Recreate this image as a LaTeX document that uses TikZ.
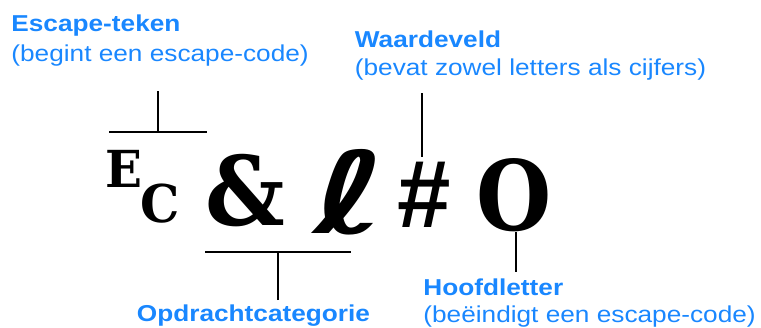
\documentclass[tikz,border=0pt]{standalone}
\usepackage{fontspec}
\usepackage{bm}
\newfontfamily\labelfont[FakeStretch=1.14]{Liberation Sans}
\newfontfamily\hashfont{Liberation Sans}
\newfontfamily\glyphfont{DejaVu Serif}
\newfontfamily\ellfont{DejaVu Sans}
\usetikzlibrary{positioning}
\definecolor{hpblue}{RGB}{25,135,255}

\begin{document}
\begin{tikzpicture}[x=1pt, y=-1pt, line width=1.8pt]
        \tikzstyle{title} = [anchor=base west, inner sep=0pt, text=hpblue, font=\labelfont\bfseries\fontsize{23}{28}\selectfont]
        \tikzstyle{remark} = [anchor=base west, inner sep=0pt, text=hpblue, font=\labelfont\fontsize{23}{28}\selectfont]
        \tikzstyle{glyph} = [anchor=base west, inner sep=0pt]

\useasboundingbox (0,0) rectangle (761,327);

% labels
        \node[title] (esc) at (10.5,31.7) {Escape-teken};
        \node[remark] (escnote) at ([yshift=-29.5pt]esc.base west) {(begint een escape-code)};
        \node[title] (value) at (354,47) {Waardeveld};
        \node[remark] (valuenote) at ([yshift=-28pt]value.base west) {(bevat zowel letters als cijfers)};
        \node[title] (group) at (136,321) {Opdrachtcategorie};
        \node[title] (upper) at (422.5,295) {Hoofdletter};
        \node[remark] (uppernote) at ([yshift=-27pt]upper.base west) {(beëindigt een escape-code)};

% escape sequence
        \node[glyph] (E) at (105,187) {\scalebox{0.95}[1]{\glyphfont\bfseries\fontsize{51}{51}\selectfont E}};
        \node[glyph] (C) at (140,222.5) {\scalebox{0.95}[1]{\glyphfont\bfseries\fontsize{52}{52}\selectfont C}};
        \node[glyph] (amp) at (205,225) {\scalebox{0.92}[1]{\glyphfont\bfseries\fontsize{96}{96}\selectfont\&}};
        \node[glyph] (ell) at (313,233) {\scalebox{1.4}[1.03]{\ellfont\bfseries\fontsize{110}{110}\selectfont ℓ}};
        \node[glyph] (hash) at (397,227) {\fontsize{96}{96}\selectfont\hashfont\bfseries\#};
        \node[glyph] (O) at (476,230) {\scalebox{0.89}[1]{\glyphfont\bfseries\fontsize{97}{97}\selectfont O}};

% brackets
        \coordinate (escL) at (109,132);
        \coordinate (escR) at (207,132);
        \coordinate (escT) at (158,91);
        \draw (escL) -- (escR);
        \draw (escT) -- (escT |- escL);

\coordinate (grpL) at (205,252);
        \coordinate (grpR) at (351,252);
        \coordinate (grpB) at (278,300);
        \draw (grpL) -- (grpR);
        \draw (grpB) -- (grpB |- grpL);

\coordinate (valT) at (422,93);
        \coordinate (valB) at (422,157);
        \draw (valT) -- (valB);

\coordinate (upT) at (516,232);
        \coordinate (upB) at (516,272);
        \draw (upT) -- (upB);

    \end{tikzpicture}
\end{document}
